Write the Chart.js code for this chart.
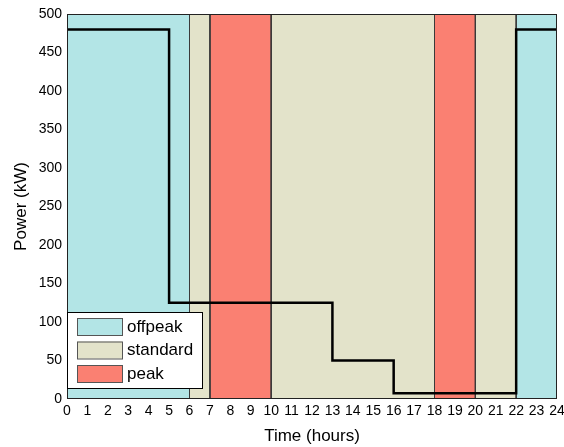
<!DOCTYPE html>
<html>
<head>
<meta charset="utf-8">
<script src="https://cdn.jsdelivr.net/npm/chart.js@4/dist/chart.umd.min.js"></script>
<style>
  html, body { margin: 0; padding: 0; background: #fff; }
  #wrap { width: 564px; height: 447px; position: relative; }
</style>
</head>
<body>
<div id="wrap"><canvas id="powerChart"></canvas></div>
<script>
// tariff periods (hours)
const bandStart = [0, 6, 7, 10, 18, 20, 22];
const bandEnd = [6, 7, 10, 18, 20, 22, 24];
const bandType = ["offpeak", "standard", "peak", "standard", "peak", "standard", "offpeak"];

// load profile (step changes)
const stepHours = [0, 5, 13, 16, 22, 24];
const stepPower = [480, 125, 50, 7.5, 480, 480];

const xTicks = [0, 1, 2, 3, 4, 5, 6, 7, 8, 9, 10, 11, 12, 13, 14, 15, 16, 17, 18, 19, 20, 21, 22, 23, 24];
const yTicks = [0, 50, 100, 150, 200, 250, 300, 350, 400, 450, 500];

const legendNames = ["offpeak", "standard", "peak"];
const typeColours = {
    offpeak: "#b3e5e6",
    standard: "#e3e3ca",
    peak: "#fa8072"
};

const yMax = 500;
const fontFamily = "'Liberation Sans', Arial, sans-serif";

let datasets = [];
for (let i = 0; i < bandStart.length; i++) {
    datasets.push({
        label: bandType[i],
        data: [
            { x: bandStart[i], y: 0 },
            { x: bandStart[i], y: yMax },
            { x: bandEnd[i], y: yMax },
            { x: bandEnd[i], y: 0 }
        ],
        backgroundColor: typeColours[bandType[i]],
        borderColor: "#3a3a3a",
        borderWidth: 1,
        pointRadius: 0,
        fill: "origin",
        tension: 0,
        order: 2
    });
}

datasets.push({
    label: "load",
    data: stepHours.map((h, i) => ({ x: h, y: stepPower[i] })),
    borderColor: "#000",
    borderWidth: 2.5,
    pointRadius: 0,
    fill: false,
    stepped: "before",
    order: 1
});

// box round the axes + legend inside plot area
const boxAndLegend = {
    id: "boxAndLegend",
    afterDatasetsDraw(chart) {
        const ctx = chart.ctx;
        const a = chart.chartArea;
        ctx.save();
        ctx.strokeStyle = "#222";
        ctx.lineWidth = 1;
        ctx.strokeRect(a.left + 0.5, a.top + 0.5, a.right - a.left - 1, a.bottom - a.top - 1);

        // legend
        const lx = a.left, ly = a.bottom - 87, lw = 135, lh = 76;
        ctx.fillStyle = "#fff";
        ctx.fillRect(lx, ly, lw, lh);
        ctx.strokeStyle = "#000";
        ctx.strokeRect(lx + 0.5, ly + 0.5, lw, lh);
        ctx.font = "17px " + fontFamily;
        ctx.textBaseline = "middle";
        legendNames.forEach((name, i) => {
            const rowY = ly + 6 + i * 23.5;
            ctx.fillStyle = typeColours[name];
            ctx.fillRect(lx + 10, rowY, 45, 17);
            ctx.strokeStyle = "#555";
            ctx.strokeRect(lx + 10.5, rowY + 0.5, 45, 17);
            ctx.fillStyle = "#000";
            ctx.fillText(name, lx + 60, rowY + 9);
        });
        ctx.restore();
    }
};

new Chart(document.getElementById("powerChart"), {
    type: "line",
    data: { datasets: datasets },
    options: {
        responsive: true,
        maintainAspectRatio: false,
        animation: false,
        layout: { padding: { left: 0, top: 14, right: 7, bottom: 0 } },
        plugins: {
            legend: { display: false },
            tooltip: { enabled: false }
        },
        scales: {
            x: {
                type: "linear",
                min: 0,
                max: 24,
                grid: { display: false, drawTicks: false },
                border: { display: false },
                afterBuildTicks: (axis) => { axis.ticks = xTicks.map(v => ({ value: v })); },
                afterFit: (axis) => {
                    axis.height = 48;
                    axis.paddingLeft = 0;
                    axis.paddingRight = 0;
                },
                ticks: {
                    color: "#000",
                    padding: 4,
                    maxRotation: 0,
                    autoSkip: false,
                    font: { family: fontFamily, size: 14 }
                },
                title: {
                    display: true,
                    text: "Time (hours)",
                    color: "#000",
                    padding: { top: 3, bottom: 0 },
                    font: { family: fontFamily, size: 17 }
                }
            },
            y: {
                min: 0,
                max: yMax,
                grid: { display: false, drawTicks: false },
                border: { display: false },
                afterBuildTicks: (axis) => { axis.ticks = yTicks.map(v => ({ value: v })); },
                afterFit: (axis) => {
                    axis.width = 67;
                    axis.paddingTop = 0;
                    axis.paddingBottom = 0;
                },
                ticks: {
                    color: "#000",
                    padding: 5,
                    font: { family: fontFamily, size: 14 }
                },
                title: {
                    display: true,
                    text: "Power (kW)",
                    color: "#000",
                    padding: { top: 11, bottom: 2 },
                    font: { family: fontFamily, size: 17 }
                }
            }
        }
    },
    plugins: [boxAndLegend]
});
</script>
</body>
</html>
